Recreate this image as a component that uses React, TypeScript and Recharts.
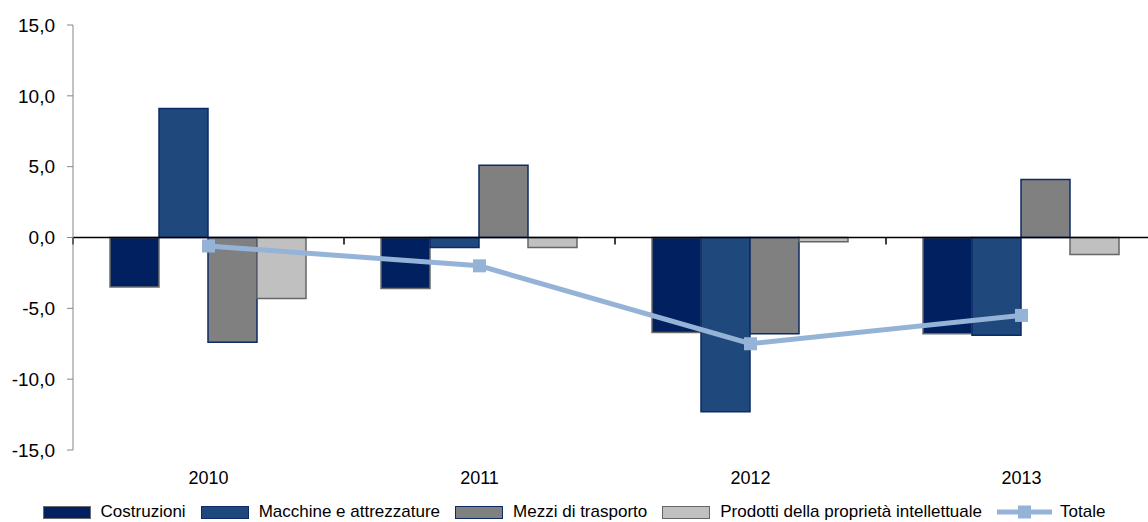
import { ComposedChart, Bar, Line, XAxis, YAxis, ReferenceLine, Legend } from "recharts"

const years = ["2010", "2011", "2012", "2013"]
const costruzioni = [-3.5, -3.6, -6.7, -6.8]
const macchine = [9.1, -0.7, -12.3, -6.9]
const mezzi = [-7.4, 5.1, -6.8, 4.1]
const prodotti = [-4.3, -0.7, -0.3, -1.2]
const totale = [-0.6, -2.0, -7.5, -5.5]
const yTicks = [-15, -10, -5, 0, 5, 10, 15]

const font = "'Liberation Sans', Arial, sans-serif"

const data = years.map((year, i) => ({
  year,
  costruzioni: costruzioni[i],
  macchine: macchine[i],
  mezzi: mezzi[i],
  prodotti: prodotti[i],
  totale: totale[i]
}))

const series = [
  { key: "costruzioni", name: "Costruzioni", fill: "#002060", stroke: "#6b6b6b" },
  { key: "macchine", name: "Macchine e attrezzature", fill: "#1f497d", stroke: "#0c2a66" },
  { key: "mezzi", name: "Mezzi di trasporto", fill: "#808080", stroke: "#0c2a66" },
  { key: "prodotti", name: "Prodotti della proprietà intellettuale", fill: "#c0c0c0", stroke: "#666666" }
]

const lineColor = "#95b3d7"

// zero axis with tick marks at the category boundaries
function ZeroAxis(props: any) {
  const { x1, x2, y1 } = props
  const step = (x2 - x1) / years.length
  return (
    <g>
      <line x1={x1} x2={x2} y1={y1} y2={y1} stroke="#000" strokeWidth={1.5} />
      {years.map((_, i) => (
        <line key={i} x1={x1 + i * step} x2={x1 + i * step} y1={y1} y2={y1 + 7} stroke="#000" strokeWidth={1.5} />
      ))}
    </g>
  )
}

function SquareDot(props: any) {
  const { cx, cy, index } = props
  return <rect key={index} x={cx - 6.5} y={cy - 6.5} width={13} height={13} fill={lineColor} />
}

function LegendBox() {
  return (
    <div style={{ display: "flex", justifyContent: "center", alignItems: "center", height: 20, fontFamily: font, fontSize: 17, color: "#000" }}>
      {series.map(s => (
        <div key={s.key} style={{ display: "flex", alignItems: "center", marginRight: 15 }}>
          <div style={{ width: 46, height: 11, background: s.fill, border: `1.5px solid ${s.stroke}`, marginRight: 10 }} />
          <span>{s.name}</span>
        </div>
      ))}
      <div style={{ display: "flex", alignItems: "center" }}>
        <svg width={55} height={14} style={{ marginRight: 8 }}>
          <line x1={0} x2={55} y1={7} y2={7} stroke={lineColor} strokeWidth={5} />
          <rect x={21} y={0.5} width={13} height={13} fill={lineColor} />
        </svg>
        <span>Totale</span>
      </div>
    </div>
  )
}

export default function App() {
  return (
    <div style={{ position: "absolute", left: 0, top: 0, width: 1148, height: 522, overflow: "hidden", background: "#fff" }}>
      <ComposedChart
        width={1160}
        height={522}
        data={data}
        margin={{ top: 25, right: 3, bottom: 0, left: 0 }}
        barCategoryGap={37}
        barGap={0}
      >
        <XAxis
          dataKey="year"
          axisLine={false}
          tickLine={false}
          tickSize={0}
          tickMargin={21}
          height={52}
          tick={{ fill: "#000", fontSize: 18, fontFamily: font }}
        />
        <YAxis
          domain={[-15, 15]}
          ticks={yTicks}
          width={73}
          stroke="#868686"
          tickSize={6}
          tickMargin={12}
          tickFormatter={(v: number) => v.toFixed(1).replace(".", ",")}
          tick={{ fill: "#000", fontSize: 19, fontFamily: font }}
        />
        <Legend
          verticalAlign="bottom"
          content={() => <LegendBox />}
          wrapperStyle={{ left: 0, width: 1148, bottom: 0, height: 20 }}
        />
        {series.map(s => (
          <Bar
            key={s.key}
            dataKey={s.key}
            name={s.name}
            fill={s.fill}
            stroke={s.stroke}
            strokeWidth={1.5}
            isAnimationActive={false}
          />
        ))}
        <ReferenceLine y={0} shape={(p: any) => <ZeroAxis {...p} />} />
        <Line
          dataKey="totale"
          name="Totale"
          stroke={lineColor}
          strokeWidth={5}
          dot={SquareDot}
          activeDot={false}
          isAnimationActive={false}
        />
      </ComposedChart>
    </div>
  )
}
